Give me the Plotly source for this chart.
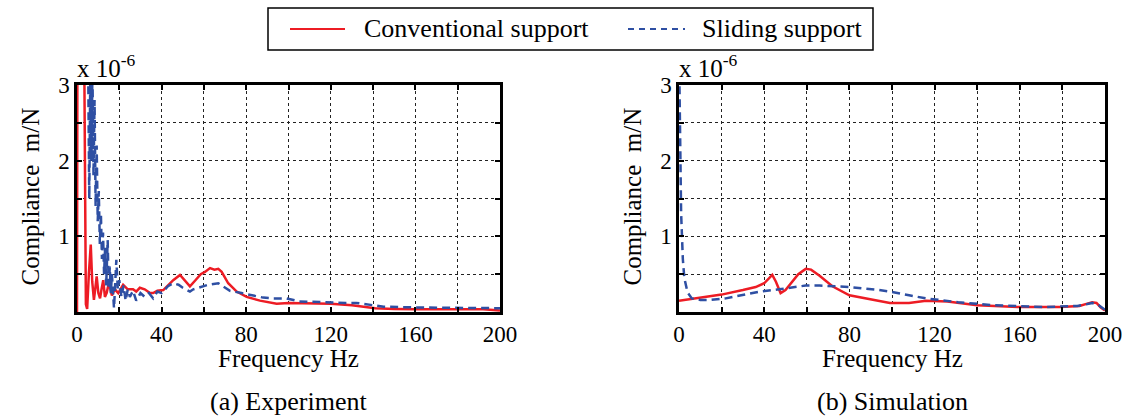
import plotly.graph_objects as go

# ---------------- data (compliance in units of 1e-6 m/N) ----------------
exp_conv_f = [0, 0.2, 1.5, 3.0, 3.4, 4.2, 4.8, 5.6, 6.5, 7.2, 8.0, 8.6, 9.3, 10.1, 10.9, 11.6,
              12.4, 13.2, 14.0, 14.8, 15.5, 16.5, 17.9, 19.5, 21.8, 24.0, 26.5, 28.0, 29.7,
              32.0, 34.5, 36.0, 38.0, 40.8, 43.8, 45.5, 48.7, 51.0, 53.4, 56.0, 58.5, 60.5,
              62.9, 65.0, 66.8, 68.4, 70.0, 71.5, 75.5, 80.2, 86.5, 94.4, 100, 113, 120, 130,
              141, 150, 160, 180, 192, 200]
exp_conv_v = [0, 3.5, 3.5, 3.5, 3.5, 0.1, 0.04, 0.5, 0.89, 0.4, 0.16, 0.3, 0.47, 0.25, 0.18,
              0.3, 0.42, 0.2, 0.25, 0.35, 0.34, 0.22, 0.3, 0.25, 0.36, 0.3, 0.3, 0.27, 0.32,
              0.3, 0.25, 0.25, 0.28, 0.29, 0.38, 0.42, 0.49, 0.42, 0.34, 0.42, 0.5, 0.53,
              0.58, 0.56, 0.57, 0.53, 0.45, 0.38, 0.27, 0.2, 0.15, 0.11, 0.12, 0.11, 0.11,
              0.09, 0.05, 0.04, 0.035, 0.035, 0.035, 0.02]

exp_slid_f = [4.8, 5.3, 5.8, 6.3, 6.8, 7.3, 7.8, 8.3, 8.8, 9.3, 9.8, 10.3, 10.8, 11.3, 11.8,
              12.3, 12.8, 13.3, 13.8, 14.5, 15.0, 15.5, 16.0, 16.5, 17.5, 18.6, 19.3, 20.0,
              21, 22, 23, 24, 25, 26.5, 28, 30, 32, 34, 36, 38, 40, 43, 45.5, 48, 50, 53.4,
              55, 58, 62, 66.8, 69, 72.3, 77.8, 81.7, 88, 92.7, 99, 105, 113, 119, 127, 132,
              137, 145, 160, 175, 192, 200]
exp_slid_v = [3.5, 3.2, 1.5, 3.2, 2.0, 3.2, 1.8, 2.8, 1.4, 2.2, 1.2, 1.6, 0.9, 1.3, 0.7,
              1.05, 0.5, 0.85, 0.35, 0.95, 0.3, 0.6, 0.25, 0.5, 0.05, 0.69, 0.3, 0.42,
              0.2, 0.35, 0.15, 0.3, 0.2, 0.28, 0.15, 0.25, 0.2, 0.25, 0.18, 0.27, 0.25,
              0.34, 0.38, 0.36, 0.32, 0.27, 0.3, 0.33, 0.36, 0.38, 0.34, 0.28, 0.25, 0.23,
              0.19, 0.18, 0.18, 0.14, 0.13, 0.12, 0.12, 0.12, 0.1, 0.07, 0.06, 0.055, 0.05,
              0.05]

sim_conv_f = [0, 10, 20, 30, 36, 40, 43.8, 45.5, 47.7, 50, 53, 56, 59.5, 62, 66, 72, 80, 87,
              94, 99, 108, 116, 126, 140, 160, 179, 188, 191, 194, 196, 198, 200]
sim_conv_v = [0.15, 0.19, 0.23, 0.29, 0.33, 0.38, 0.49, 0.4, 0.25, 0.29, 0.4, 0.5, 0.57,
              0.56, 0.48, 0.34, 0.22, 0.18, 0.15, 0.12, 0.12, 0.15, 0.14, 0.09, 0.065,
              0.065, 0.08, 0.1, 0.13, 0.12, 0.06, 0.02]

sim_slid_f = [0, 0.4, 1.0, 1.8, 2.5, 4.0, 6.0, 10, 14.6, 22, 28.5, 35, 38, 47, 53, 59.5, 66,
              72, 80, 94, 99, 108, 116, 131, 147, 171, 187, 191, 194, 197, 200]
sim_slid_v = [3.5, 2.4, 1.3, 0.7, 0.45, 0.26, 0.18, 0.16, 0.16, 0.18, 0.22, 0.26, 0.27, 0.3,
              0.32, 0.35, 0.35, 0.34, 0.33, 0.29, 0.27, 0.22, 0.18, 0.13, 0.09, 0.065, 0.08,
              0.1, 0.12, 0.09, 0.03]

x_ticks = [0, 40, 80, 120, 160, 200]
x_ticktext = ["0", "40", "80", "120", "160", "200"]
y_ticks = [1, 2, 3]
y_ticktext = ["1", "2", "3"]

series_names = ["Conventional support", "Sliding support"]
panel_titles = ["(a) Experiment", "(b) Simulation"]

RED = "#ED1C24"
BLUE = "#2E4FA3"
DASH = "8px,5px"
FONT = "'Liberation Serif', 'Times New Roman', Times, serif"
W, H = 1133, 418

fig = go.Figure()

fig.add_trace(go.Scatter(x=exp_conv_f, y=exp_conv_v, mode="lines", name=series_names[0],
                         line=dict(color=RED, width=2.5), xaxis="x", yaxis="y"))
fig.add_trace(go.Scatter(x=exp_slid_f, y=exp_slid_v, mode="lines", name=series_names[1],
                         line=dict(color=BLUE, width=2.5, dash=DASH), xaxis="x", yaxis="y"))
fig.add_trace(go.Scatter(x=sim_conv_f, y=sim_conv_v, mode="lines", name=series_names[0],
                         line=dict(color=RED, width=2.5), xaxis="x2", yaxis="y2"))
fig.add_trace(go.Scatter(x=sim_slid_f, y=sim_slid_v, mode="lines", name=series_names[1],
                         line=dict(color=BLUE, width=2.5, dash=DASH), xaxis="x2", yaxis="y2"))

y_dom = [1 - 312 / H, 1 - 85 / H]
x_doms = [[77 / W, 500 / W], [679 / W, 1105 / W]]

tick_font = dict(family=FONT, size=23, color="black")
grid = dict(showgrid=True, gridcolor="#222", griddash="dot", gridwidth=1)
minor_common = dict(ticks="inside", ticklen=5, tickwidth=1.5, tickcolor="black",
                    showgrid=True, gridcolor="#222", griddash="dot", gridwidth=1)
axis_common = dict(showline=True, linecolor="black", linewidth=2.5, mirror="ticks",
                   ticks="inside", ticklen=5, tickwidth=1.5, tickcolor="black",
                   zeroline=False, tickfont=tick_font, automargin=False, **grid)
common_x = dict(range=[0, 200], tickvals=x_ticks, ticktext=x_ticktext,
                minor=dict(tick0=0, dtick=20, **minor_common), **axis_common)
common_y = dict(range=[0, 3], tickvals=y_ticks, ticktext=y_ticktext,
                minor=dict(tick0=0, dtick=0.5, **minor_common), **axis_common)

fig.update_layout(
    xaxis=dict(domain=x_doms[0], anchor="y", **common_x),
    yaxis=dict(domain=y_dom, anchor="x", **common_y),
    xaxis2=dict(domain=x_doms[1], anchor="y2", **common_x),
    yaxis2=dict(domain=y_dom, anchor="x2", **common_y),
)

txt_font = dict(family=FONT, size=25, color="black")
annotations = []
shapes = []
for i, (x0, x1) in enumerate(x_doms):
    xc = (x0 + x1) / 2
    annotations.append(dict(x=xc, y=1 - 358 / H, xref="paper", yref="paper", text="Frequency Hz",
                            showarrow=False, font=txt_font, xanchor="center", yanchor="middle"))
    annotations.append(dict(x=xc, y=1 - 401 / H, xref="paper", yref="paper", text=panel_titles[i],
                            showarrow=False, font=dict(family=FONT, size=26, color="black"),
                            xanchor="center", yanchor="middle"))
    annotations.append(dict(x=x0 - 47 / W, y=(y_dom[0] + y_dom[1]) / 2 + 2 / H, xref="paper",
                            yref="paper", text="Compliance  m/N", textangle=-90, showarrow=False,
                            font=txt_font, xanchor="center", yanchor="middle"))
    annotations.append(dict(x=x0 - 1 / W, y=1 - 83 / H, xref="paper", yref="paper",
                            text="x 10<sup>-6</sup>", showarrow=False,
                            font=dict(family=FONT, size=25, color="black"),
                            xanchor="left", yanchor="bottom", borderpad=0))

# legend box drawn by hand (matches the reference's boxed legend)
shapes.append(dict(type="rect", xref="paper", yref="paper", x0=268 / W, x1=873 / W,
                   y0=1 - 50 / H, y1=1 - 8 / H, line=dict(color="black", width=1.5),
                   fillcolor="white", layer="above"))
legend_items = [(290, 345, 362, RED, "solid"), (628, 685, 700, BLUE, "6px,5px")]
for (lx0, lx1, tx, col, dsh), name in zip(legend_items, series_names):
    shapes.append(dict(type="line", xref="paper", yref="paper", x0=lx0 / W, x1=lx1 / W,
                       y0=1 - 29 / H, y1=1 - 29 / H, line=dict(color=col, width=2, dash=dsh),
                       layer="above"))
    annotations.append(dict(x=tx / W, y=1 - 29 / H, xref="paper", yref="paper", text=name,
                            showarrow=False, font=dict(family=FONT, size=26, color="black"),
                            xanchor="left", yanchor="middle"))

fig.update_layout(
    width=W, height=H, margin=dict(l=0, r=0, t=0, b=0, autoexpand=False),
    paper_bgcolor="white", plot_bgcolor="white",
    annotations=annotations, shapes=shapes,
    showlegend=False,
)

fig.write_html("out.html")
